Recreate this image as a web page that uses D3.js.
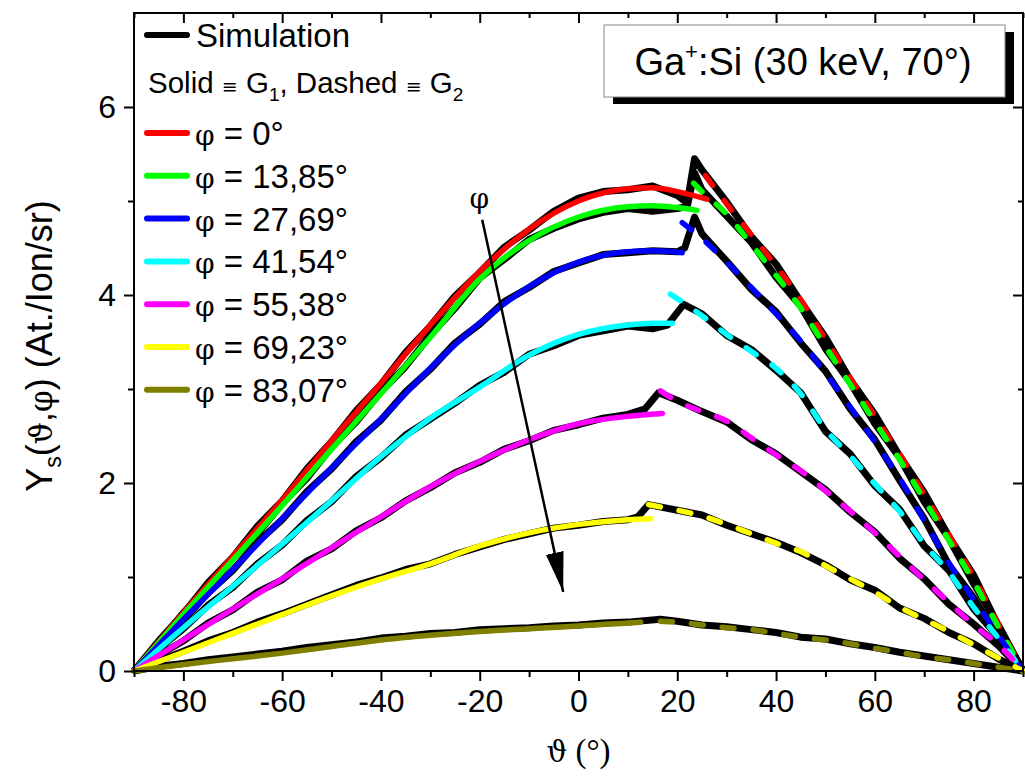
<!DOCTYPE html>
<html>
<head>
<meta charset="utf-8">
<script src="https://cdn.jsdelivr.net/npm/d3@7"></script>
<style>
  body { margin: 0; background: #fff; }
  svg { display: block; }
  text { font-family: "Liberation Sans", Arial, sans-serif; fill: #000; }
</style>
</head>
<body>
<script>
(function(){

	// phi values of each curve (legend labels) and their colours
	var phiLabels = ["0", "13,85", "27,69", "41,54", "55,38", "69,23", "83,07"];
	var colors = ["#ff0000", "#00ff00", "#0000ff", "#00ffff", "#ff00ff", "#ffff00", "#808000"];

	// shared theta grids
	var thetaLeft = [-90,-85,-80,-75,-70,-65,-60,-55,-50,-45,-40,-35,-30,-25,-20,-15,-10,-5,0,5,10];
	var thetaRight = [30,35,40,45,50,55,60,65,70,75,80,85,90];
	var g1Theta = [-90,-80,-70,-60,-50,-40,-30,-20,-10,0,10];

	// simulation (black), left part on thetaLeft
	var simLeft = [
		[0,0.32,0.61,0.94,1.21,1.54,1.81,2.15,2.44,2.77,3.05,3.39,3.67,3.99,4.24,4.51,4.69,4.89,5.03,5.10,5.12],
		[0,0.29,0.62,0.88,1.20,1.46,1.78,2.05,2.38,2.65,2.97,3.24,3.57,3.86,4.18,4.38,4.59,4.71,4.81,4.88,4.92],
		[0,0.29,0.54,0.83,1.07,1.37,1.61,1.91,2.15,2.44,2.67,2.97,3.21,3.49,3.69,3.93,4.08,4.25,4.34,4.43,4.45],
		[0,0.24,0.45,0.70,0.89,1.14,1.34,1.60,1.80,2.07,2.27,2.51,2.68,2.85,3.04,3.18,3.37,3.46,3.57,3.62,3.67],
		[0,0.17,0.32,0.51,0.65,0.84,0.97,1.17,1.30,1.49,1.63,1.81,1.95,2.11,2.22,2.36,2.45,2.56,2.62,2.69,2.73],
		[0,0.11,0.21,0.32,0.41,0.52,0.61,0.71,0.81,0.91,0.99,1.08,1.14,1.24,1.32,1.40,1.46,1.52,1.55,1.59,1.61],
		[0,0.05,0.08,0.12,0.15,0.18,0.21,0.25,0.28,0.31,0.35,0.37,0.40,0.41,0.44,0.45,0.46,0.48,0.49,0.51,0.52]
	];
	// simulation around the peak, [theta, value]
	var simPeak = [
		[[15,5.16],[20,5.06],[22,4.98],[23.5,5.45],[25,5.33]],
		[[15,4.89],[20,4.92],[22,4.94],[23.5,5.30],[25,5.12]],
		[[15,4.47],[20,4.46],[21.5,4.50],[23.5,4.83],[25,4.65]],
		[[15,3.64],[18,3.68],[21.3,3.90],[25,3.80]],
		[[13.5,2.79],[16.2,2.96],[20,2.88],[25,2.76]],
		[[12,1.64],[14.2,1.77],[20,1.71],[25,1.66]],
		[[16.6,0.55],[20,0.53],[25,0.49]]
	];
	// simulation right part on thetaRight
	var simRight = [
		[4.99,4.62,4.33,3.93,3.55,3.10,2.73,2.29,1.90,1.43,1.02,0.48,0],
		[4.84,4.56,4.19,3.88,3.43,3.07,2.63,2.27,1.80,1.41,0.93,0.49,0],
		[4.36,4.06,3.82,3.49,3.19,2.79,2.46,2.03,1.62,1.13,0.78,0.36,0],
		[3.57,3.42,3.20,2.96,2.55,2.31,1.97,1.72,1.33,1.07,0.66,0.36,0],
		[2.65,2.46,2.31,2.12,1.93,1.69,1.48,1.20,0.98,0.71,0.50,0.27,0],
		[1.55,1.46,1.37,1.26,1.13,0.97,0.86,0.67,0.56,0.41,0.29,0.13,0],
		[0.47,0.44,0.41,0.36,0.34,0.29,0.25,0.20,0.16,0.12,0.08,0.04,0]
	];

	// G1 model (solid) on g1Theta, plus the end of each curve
	var g1Values = [
		[0,0.62,1.22,1.82,2.45,3.06,3.68,4.25,4.70,5.00,5.13],
		[0,0.60,1.18,1.76,2.36,2.95,3.55,4.17,4.58,4.83,4.94],
		[0,0.55,1.08,1.62,2.16,2.68,3.22,3.70,4.09,4.35,4.46],
		[0,0.46,0.90,1.35,1.81,2.28,2.69,3.02,3.36,3.58,3.68],
		[0,0.33,0.66,0.98,1.31,1.64,1.96,2.23,2.46,2.63,2.71],
		[0,0.20,0.40,0.60,0.80,0.98,1.14,1.33,1.47,1.56,1.61],
		[0,0.07,0.13,0.19,0.26,0.33,0.38,0.42,0.45,0.48,0.51]
	];
	var g1End = [
		[[15,5.14],[20,5.10],[26,5.02]],
		[[15,4.95],[20,4.93],[24,4.90]],
		[[15,4.47],[21,4.45]],
		[[15,3.70],[19,3.70]],
		[[17,2.74]],
		[[14.6,1.62]],
		[[12.6,0.52]]
	];

	// G2 model (dashed): start of each curve, then values on thetaRight
	var g2Head = [
		[[25.7,5.27]],
		[[23.3,5.19],[25,5.10]],
		[[21,4.77],[25,4.60]],
		[[18.6,4.01],[25,3.78]],
		[[16.6,2.98],[20,2.87],[25,2.76]],
		[[14.2,1.77],[20,1.71],[25,1.65]],
		[[16.6,0.53],[20,0.52],[25,0.49]]
	];
	var g2Right = [
		[4.97,4.64,4.31,3.95,3.53,3.12,2.71,2.31,1.88,1.45,1.00,0.50,0],
		[4.86,4.54,4.21,3.86,3.45,3.05,2.65,2.25,1.82,1.39,0.95,0.47,0],
		[4.35,4.08,3.80,3.51,3.17,2.81,2.44,2.05,1.60,1.15,0.76,0.38,0],
		[3.58,3.40,3.22,2.95,2.57,2.29,1.99,1.70,1.35,1.05,0.68,0.35,0],
		[2.66,2.48,2.30,2.13,1.92,1.70,1.47,1.22,0.97,0.73,0.49,0.28,0],
		[1.56,1.46,1.36,1.27,1.12,0.98,0.84,0.68,0.55,0.42,0.28,0.14,0],
		[0.46,0.44,0.40,0.36,0.33,0.29,0.24,0.20,0.15,0.12,0.08,0.04,0]
	];

	// axis ticks
	var xMajor = [-80,-60,-40,-20,0,20,40,60,80];
	var xMinor = [-90,-70,-50,-30,-10,10,30,50,70,90];
	var yMajor = [0,2,4,6];
	var yMinor = [1,3,5];

	// phi arrow, in data units [theta, Y]
	var arrowFrom = [-19.5, 4.8];
	var arrowTo = [-3.1, 0.84];

	var width = 1025, height = 782;
	var margin = {left: 134, right: 2, top: 13, bottom: 111};

	var svg = d3.select("body").append("svg")
		.attr("width", width)
		.attr("height", height);

	var x = d3.scaleLinear().domain([-90, 90]).range([margin.left, width - margin.right]);
	var y = d3.scaleLinear().domain([0, 7]).range([height - margin.bottom, margin.top]);

	var line = d3.line()
		.x(function(d){ return x(d[0]); })
		.y(function(d){ return y(d[1]); });
	var smooth = d3.line()
		.curve(d3.curveMonotoneX)
		.x(function(d){ return x(d[0]); })
		.y(function(d){ return y(d[1]); });

	function zip(ts, vs){
		return ts.map(function(t, i){ return [t, vs[i]]; });
	}

	//build per-curve point lists
	var sims = [], g1s = [], g2s = [];
	for (var i = 0; i < phiLabels.length; i++){
		sims.push(zip(thetaLeft, simLeft[i]).concat(simPeak[i], zip(thetaRight, simRight[i])));
		g1s.push(zip(g1Theta, g1Values[i]).concat(g1End[i]));
		g2s.push(g2Head[i].concat(zip(thetaRight, g2Right[i])));
	}

	var plot = svg.append("g");

	//simulation curves underneath
	plot.selectAll(".sim")
		.data(sims)
		.enter()
		.append("path")
		.attr("class", "sim")
		.attr("d", line)
		.attr("fill", "none")
		.attr("stroke", "#000")
		.attr("stroke-width", 7)
		.attr("stroke-linejoin", "round");

	//G1 solid curves
	plot.selectAll(".g1")
		.data(g1s)
		.enter()
		.append("path")
		.attr("class", "g1")
		.attr("d", smooth)
		.attr("fill", "none")
		.attr("stroke", function(d, i){ return colors[i]; })
		.attr("stroke-width", 5.5)
		.attr("stroke-linecap", "round");

	//G2 dashed curves
	plot.selectAll(".g2")
		.data(g2s)
		.enter()
		.append("path")
		.attr("class", "g2")
		.attr("d", smooth)
		.attr("fill", "none")
		.attr("stroke", function(d, i){ return colors[i]; })
		.attr("stroke-width", 5.5)
		.attr("stroke-linecap", "round")
		.attr("stroke-dasharray", "12,19");

	//axes
	var x0 = y(0), y0 = x(-90), x1 = x(90), yTop = y(7);
	var fs = 32;
	var plain = function(d){ return String(d); };

	var bottom = svg.append("g").attr("transform", "translate(0," + x0 + ")");
	bottom.call(d3.axisBottom(x).tickValues(xMajor).tickSize(10).tickPadding(8).tickFormat(plain));
	bottom.append("g").call(d3.axisBottom(x).tickValues(xMinor).tickSize(6).tickFormat(""));

	var top = svg.append("g").attr("transform", "translate(0," + yTop + ")");
	top.call(d3.axisTop(x).tickValues(xMajor).tickSize(-10).tickFormat(""));
	top.append("g").call(d3.axisTop(x).tickValues(xMinor).tickSize(-5).tickFormat(""));

	var left = svg.append("g").attr("transform", "translate(" + y0 + ",0)");
	left.call(d3.axisLeft(y).tickValues(yMajor).tickSize(10).tickPadding(8).tickFormat(plain));
	left.append("g").call(d3.axisLeft(y).tickValues(yMinor).tickSize(6).tickFormat(""));

	var right = svg.append("g").attr("transform", "translate(" + x1 + ",0)");
	right.call(d3.axisRight(y).tickValues(yMajor).tickSize(-10).tickFormat(""));
	right.append("g").call(d3.axisRight(y).tickValues(yMinor).tickSize(-5).tickFormat(""));

	svg.selectAll(".domain").remove();
	svg.selectAll(".tick line").attr("stroke", "#000").attr("stroke-width", 2);
	svg.selectAll(".tick text")
		.style("font-family", "'Liberation Sans', Arial, sans-serif")
		.style("font-size", fs + "px");

	//frame
	svg.append("rect")
		.attr("x", y0).attr("y", yTop)
		.attr("width", x1 - y0).attr("height", x0 - yTop)
		.attr("fill", "none").attr("stroke", "#000").attr("stroke-width", 2);

	//axis titles
	var xt = svg.append("text")
		.attr("x", x(0)).attr("y", 762)
		.attr("text-anchor", "middle")
		.style("font-family", "'Liberation Serif', 'DejaVu Serif', serif")
		.style("font-size", "33px");
	xt.append("tspan").style("font-family", "'DejaVu Serif', serif").style("font-size", "29px").text("\u03d1");
	xt.append("tspan").text(" (\u00b0)");

	var yt = svg.append("text")
		.attr("transform", "translate(52," + ((yTop + x0) / 2 + 4) + ") rotate(-90)")
		.attr("text-anchor", "middle")
		.style("font-size", "36px");
	yt.append("tspan").text("Y");
	yt.append("tspan").attr("dy", 9).style("font-size", "23px").text("s");
	yt.append("tspan").attr("dy", -9).text("(");
	yt.append("tspan").style("font-family", "'DejaVu Serif', serif").style("font-size", "31px").text("\u03d1");
	yt.append("tspan").text(",");
	yt.append("tspan").style("font-family", "'DejaVu Serif', serif").style("font-size", "31px").text("\u03c6");
	yt.append("tspan").text(") (At./Ion/sr)");

	//phi arrow
	svg.append("defs").append("marker")
		.attr("id", "head")
		.attr("viewBox", "0 0 40 20")
		.attr("refX", 40).attr("refY", 10)
		.attr("markerWidth", 40).attr("markerHeight", 20)
		.attr("markerUnits", "userSpaceOnUse")
		.attr("orient", "auto")
		.append("path")
		.attr("d", "M0,1 L40,10 L0,19 Z")
		.attr("fill", "#000");

	svg.append("line")
		.attr("x1", x(arrowFrom[0])).attr("y1", y(arrowFrom[1]))
		.attr("x2", x(arrowTo[0])).attr("y2", y(arrowTo[1]))
		.attr("stroke", "#000").attr("stroke-width", 2.5)
		.attr("marker-end", "url(#head)");
	svg.append("text")
		.attr("x", x(arrowFrom[0]) - 3).attr("y", y(arrowFrom[1]) - 12)
		.attr("text-anchor", "middle")
		.style("font-family", "'DejaVu Serif', serif")
		.style("font-size", "28px")
		.text("\u03c6");

	//legend
	var lg = svg.append("g");
	lg.append("line").attr("x1", 147).attr("x2", 187).attr("y1", 35).attr("y2", 35)
		.attr("stroke", "#000").attr("stroke-width", 6).attr("stroke-linecap", "round");
	lg.append("text").attr("x", 196).attr("y", 47).style("font-size", "33px").text("Simulation");

	var sd = lg.append("text").attr("x", 148).attr("y", 93).style("font-size", "29.5px");
	sd.append("tspan").text("Solid ");
	sd.append("tspan").style("font-family", "'DejaVu Sans', sans-serif").style("font-size", "19px").text("\u2261");
	sd.append("tspan").text(" G");
	sd.append("tspan").attr("dy", 8).style("font-size", "19px").text("1");
	sd.append("tspan").attr("dy", -8).text(", Dashed ");
	sd.append("tspan").style("font-family", "'DejaVu Sans', sans-serif").style("font-size", "19px").text("\u2261");
	sd.append("tspan").text(" G");
	sd.append("tspan").attr("dy", 8).style("font-size", "19px").text("2");

	var rows = lg.selectAll(".row")
		.data(phiLabels)
		.enter()
		.append("g")
		.attr("class", "row")
		.attr("transform", function(d, i){ return "translate(0," + (133 + i * 42.8) + ")"; });
	rows.append("line").attr("x1", 147).attr("x2", 187)
		.attr("stroke", function(d, i){ return colors[i]; })
		.attr("stroke-width", 6).attr("stroke-linecap", "round");
	var rt = rows.append("text").attr("x", 195).attr("y", 12).style("font-size", "33px");
	rt.append("tspan").style("font-family", "'DejaVu Serif', serif").style("font-size", "28px").text("\u03c6");
	rt.append("tspan").text(function(d){ return " = " + d + "\u00b0"; });

	//title box with shadow
	var tb = svg.append("g");
	tb.append("rect").attr("x", 613).attr("y", 32).attr("width", 401).attr("height", 72).attr("fill", "#000");
	tb.append("rect").attr("x", 604).attr("y", 25).attr("width", 401).attr("height", 72)
		.attr("fill", "#fff").attr("stroke", "#888").attr("stroke-width", 1);
	var tt = tb.append("text").attr("x", 803).attr("y", 75).attr("text-anchor", "middle").style("font-size", "38px");
	tt.append("tspan").text("Ga");
	tt.append("tspan").attr("dy", -16).style("font-size", "22px").text("+");
	tt.append("tspan").attr("dy", 16).text(":Si (30 keV, 70\u00b0)");

})();
</script>
</body>
</html>
